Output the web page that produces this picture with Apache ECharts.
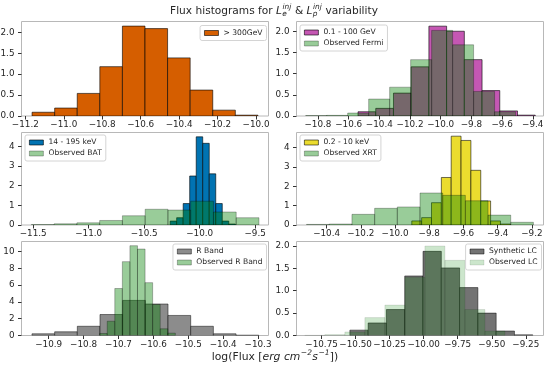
<!DOCTYPE html>
<html><head><meta charset="utf-8">
<script src="https://cdn.jsdelivr.net/npm/echarts@6/dist/echarts.min.js"></script>
<style>html,body{margin:0;padding:0;background:#fff}#c{width:550px;height:367px}</style>
</head><body><div id="c"></div>
<script>
// ---------- DATA ----------
// Panel 1: > 300GeV
const p1Edges = [-11.165, -11.0475, -10.93, -10.8125, -10.695, -10.5775, -10.46, -10.3425, -10.225, -10.1075, -9.99];
const p1Vals  = [0.09, 0.19, 0.54, 1.18, 2.15, 2.09, 1.39, 0.62, 0.14, 0.02];
// Panel 2: 0.1 - 100 GeV / Observed Fermi
const p2aEdges = [-10.539, -10.4235, -10.308, -10.1925, -10.077, -9.9615, -9.846, -9.7305, -9.615, -9.4995, -9.384];
const p2aVals  = [0.1, 0.18, 0.54, 1.16, 2.12, 2.0, 1.33, 0.6, 0.12, 0.02];
const p2bEdges = [-10.88, -10.7432, -10.6064, -10.4696, -10.3328, -10.196, -10.0592, -9.9224, -9.7856, -9.6488, -9.512];
const p2bVals  = [0.01, 0.015, 0.07, 0.4, 0.68, 1.33, 2.02, 1.68, 0.58, 0.1];
// Panel 3: 14 - 195 keV / Observed BAT
const p3aEdges = [-10.266, -10.2073, -10.1486, -10.0899, -10.0312, -9.9725, -9.9138, -9.8551, -9.7964, -9.7377, -9.679];
const p3aVals  = [0.2, 0.37, 1.09, 2.49, 4.48, 4.15, 2.6, 1.09, 0.2, 0.05];
const p3bEdges = [-11.516, -11.311, -11.106, -10.901, -10.696, -10.491, -10.286, -10.081, -9.876, -9.671, -9.466];
const p3bVals  = [0.02, 0.06, 0.11, 0.23, 0.47, 0.8, 0.76, 1.21, 0.66, 0.37];
// Panel 4: 0.2 - 10 keV / Observed XRT
const p4aEdges = [-9.902, -9.8444, -9.7868, -9.7292, -9.6716, -9.614, -9.5564, -9.4988, -9.4412, -9.3836, -9.326];
const p4aVals  = [0.21, 0.38, 1.15, 2.45, 4.58, 4.36, 2.82, 1.24, 0.21, 0.05];
const p4bEdges = [-10.517, -10.3844, -10.2518, -10.1192, -9.9866, -9.854, -9.7214, -9.5888, -9.4562, -9.3236, -9.191];
const p4bVals  = [0.03, 0.05, 0.55, 0.86, 0.93, 1.65, 1.53, 1.25, 0.51, 0.14];
// Panel 5: R Band / Observed R Band
const p5aEdges = [-10.948, -10.883, -10.818, -10.753, -10.688, -10.623, -10.558, -10.493, -10.428, -10.363, -10.298];
const p5aVals  = [0.2, 0.44, 1.1, 2.5, 4.18, 3.75, 2.39, 1.1, 0.2, 0.04];
const p5bEdges = [-10.754, -10.7323, -10.7106, -10.6889, -10.6672, -10.6455, -10.6238, -10.6021, -10.5804, -10.5587, -10.537];
const p5bVals  = [0.24, 1.7, 5.6, 8.8, 10.7, 10.3, 6.3, 3.7, 0.8, 0.28];
// Panel 6: Synthetic LC / Observed LC
const p6aEdges = [-10.542, -10.4077, -10.2734, -10.1391, -10.0048, -9.8705, -9.7362, -9.6019, -9.4676, -9.3333, -9.199];
const p6aVals  = [0.12, 0.28, 0.58, 1.33, 1.88, 1.51, 1.07, 0.5, 0.1, 0.015];
const p6bEdges = [-10.873, -10.726, -10.579, -10.432, -10.285, -10.138, -9.991, -9.844, -9.697, -9.55, -9.403];
const p6bVals  = [0.005, 0.02, 0.08, 0.4, 0.68, 1.3, 2.0, 1.68, 0.58, 0.1];

// tick labels
const p1XTicks = [-11.2, -11.0, -10.8, -10.6, -10.4, -10.2, -10.0];
const p2XTicks = [-10.8, -10.6, -10.4, -10.2, -10.0, -9.8, -9.6, -9.4];
const p3XTicks = [-11.5, -11.0, -10.5, -10.0, -9.5];
const p4XTicks = [-10.4, -10.2, -10.0, -9.8, -9.6, -9.4, -9.2];
const p5XTicks = [-10.9, -10.8, -10.7, -10.6, -10.5, -10.4, -10.3];
const p6XTicks = [-10.75, -10.50, -10.25, -10.00, -9.75, -9.50, -9.25];
const p1YTicks = [0, 0.5, 1.0, 1.5, 2.0];
const p2YTicks = [0, 0.5, 1.0, 1.5, 2.0];
const p3YTicks = [0, 1, 2, 3, 4];
const p4YTicks = [0, 1, 2, 3, 4];
const p5YTicks = [0, 2, 4, 6, 8, 10];
const p6YTicks = [0, 0.5, 1.0, 1.5, 2.0];

// ---------- LAYOUT / STYLE ----------
const FONT = 'DejaVu Sans';
const TXT = '#262626';
const grids = [
  {left: 21.5, top: 21.5, width: 247, height: 94.5},
  {left: 296.5, top: 21.5, width: 247, height: 94.5},
  {left: 21.5, top: 132.5, width: 247, height: 92.5},
  {left: 296.5, top: 132.5, width: 247, height: 92.5},
  {left: 21.5, top: 241.5, width: 247, height: 94},
  {left: 296.5, top: 241.5, width: 247, height: 94}
];
const xr = [[-11.22, -9.935], [-10.94, -9.33], [-11.605, -9.38], [-10.576, -9.132], [-10.978, -10.27], [-10.934, -9.12]];
const yr = [2.26, 2.23, 4.7, 4.77, 11.2, 2.1];
const xt = [p1XTicks, p2XTicks, p3XTicks, p4XTicks, p5XTicks, p6XTicks];
const yt = [p1YTicks, p2YTicks, p3YTicks, p4YTicks, p5YTicks, p6YTicks];
const xDec = [1, 1, 1, 1, 1, 2];
const yDec = [1, 1, 0, 0, 0, 1];
const fmt = (v, d) => v.toFixed(d).replace('-', '\u2212');

const G = 'rgba(0,128,0,0.4)';
const GE = 'rgba(0,0,0,0.35)';

function hist(name, gi, edges, vals, fill, stroke, lw) {
  const data = vals.map((v, i) => [edges[i], edges[i + 1], v]);
  return {
    type: 'custom', name, xAxisIndex: gi, yAxisIndex: gi, data,
    encode: {x: [0, 1], y: 2}, clip: true, silent: true, animation: false,
    itemStyle: {color: fill},
    renderItem: (params, api) => {
      const a = api.coord([api.value(0), 0]);
      const b = api.coord([api.value(1), api.value(2)]);
      return {type: 'rect', shape: {x: a[0], y: b[1], width: b[0] - a[0], height: a[1] - b[1]},
        style: {fill, stroke, lineWidth: lw}};
    }
  };
}

const S = {
  orange: ['#d55e00', 'rgba(0,0,0,0.75)'],
  mag: ['#c557b3', 'rgba(0,0,0,0.75)'],
  blue: ['#0173b2', 'rgba(0,0,0,0.75)'],
  yel: ['#ebdc2e', 'rgba(0,0,0,0.7)'],
  gray: ['#8c8c8c', 'rgba(0,0,0,0.6)'],
  dgray: ['#737373', 'rgba(0,0,0,0.6)'],
  green: [G, GE],
  lgreen: ['rgba(0,128,0,0.2)', 'rgba(0,0,0,0.12)']
};

const series = [
  hist('> 300GeV', 0, p1Edges, p1Vals, S.orange[0], S.orange[1], 0.8),
  hist('0.1 - 100 GeV', 1, p2aEdges, p2aVals, S.mag[0], S.mag[1], 0.8),
  hist('Observed Fermi', 1, p2bEdges, p2bVals, S.green[0], S.green[1], 0.8),
  hist('14 - 195 keV', 2, p3aEdges, p3aVals, S.blue[0], S.blue[1], 0.8),
  hist('Observed BAT', 2, p3bEdges, p3bVals, S.green[0], S.green[1], 0.8),
  hist('0.2 - 10 keV', 3, p4aEdges, p4aVals, S.yel[0], S.yel[1], 0.8),
  hist('Observed XRT', 3, p4bEdges, p4bVals, S.green[0], S.green[1], 0.8),
  hist('R Band', 4, p5aEdges, p5aVals, S.gray[0], S.gray[1], 0.8),
  hist('Observed R Band', 4, p5bEdges, p5bVals, S.green[0], S.green[1], 0.8),
  hist('Synthetic LC', 5, p6aEdges, p6aVals, S.dgray[0], S.dgray[1], 0.8),
  hist('Observed LC', 5, p6bEdges, p6bVals, S.lgreen[0], S.lgreen[1], 0.8)
];

function legend(items, pos) {
  return Object.assign({
    show: true, orient: 'vertical', selectedMode: false,
    data: items.map(([n, st]) => ({name: n, icon: 'rect', itemStyle: {color: st[0], borderColor: st[1], borderWidth: 0.8}})),
    itemWidth: 14, itemHeight: 5, itemGap: 2, padding: [3, 4, 3, 4],
    backgroundColor: 'rgba(255,255,255,0.8)', borderColor: '#d4d4d4', borderWidth: 1, borderRadius: 2,
    textStyle: {fontSize: 7.6, color: TXT, fontFamily: FONT, lineHeight: 9}
  }, pos);
}
const legends = [
  legend([['> 300GeV', S.orange]], {right: 283.5, top: 25.5}),
  legend([['0.1 - 100 GeV', S.mag], ['Observed Fermi', S.green]], {left: 300, top: 25}),
  legend([['14 - 195 keV', S.blue], ['Observed BAT', S.green]], {left: 25, top: 135}),
  legend([['0.2 - 10 keV', S.yel], ['Observed XRT', S.green]], {left: 300, top: 135}),
  legend([['R Band', S.gray], ['Observed R Band', S.green]], {right: 283.5, top: 244}),
  legend([['Synthetic LC', S.dgray], ['Observed LC', S.lgreen]], {right: 8.5, top: 244})
];

// rich one-line text with stacked sub/superscripts, laid out by measuring glyph widths
function mathLine(parts, cx, cy, base) {
  const ctx = document.createElement('canvas').getContext('2d');
  const f = (s, it) => (it ? 'italic ' : '') + s + 'px "' + FONT + '"';
  const items = []; let x = 0;
  for (const p of parts) {
    if (p.t !== undefined) {
      ctx.font = f(base, p.it);
      items.push({text: p.t, x, dy: 0, size: base, it: p.it});
      x += ctx.measureText(p.t).width;
    } else {
      const s = base * 0.7; ctx.font = f(s, p.it !== false);
      let w = 0;
      if (p.sup) { w = Math.max(w, ctx.measureText(p.sup).width); items.push({text: p.sup, x: x + 0.5, dy: -base * 0.36, size: s, it: p.it !== false}); }
      if (p.sub) { w = Math.max(w, ctx.measureText(p.sub).width); items.push({text: p.sub, x: x + 0.3, dy: base * 0.32, size: s, it: p.it !== false}); }
      x += w + 0.8;
    }
  }
  const x0 = cx - x / 2;
  return items.map(it => ({
    type: 'text', x: x0 + it.x, y: cy + it.dy, silent: true,
    style: {text: it.text, fontSize: it.size, fontFamily: FONT, fontStyle: it.it ? 'italic' : 'normal',
      fill: TXT, align: 'left', verticalAlign: 'middle'}
  }));
}

const titleEls = mathLine([
  {t: 'Flux histograms for '}, {t: 'L', it: true}, {sup: 'inj', sub: 'e'},
  {t: ' & '}, {t: 'L', it: true}, {sup: 'inj', sub: 'p'}, {t: ' variability'}
], 274, 11, 10.6);
const xlabEls = mathLine([
  {t: 'log(Flux ['}, {t: 'erg cm', it: true}, {sup: '\u22122'}, {t: 's', it: true}, {sup: '\u22121'}, {t: '])'}
], 275, 357, 10.8);

const option = {
  animation: false,
  backgroundColor: '#fff',
  grid: grids.map(g => Object.assign({show: true, borderColor: '#b8b8b8', borderWidth: 1, backgroundColor: 'transparent',
    containLabel: false, outerBoundsMode: 'none'}, g)),
  xAxis: grids.map((g, i) => ({
    type: 'value', gridIndex: i, min: xr[i][0], max: xr[i][1],
    axisLine: {show: false}, splitLine: {show: false},
    axisTick: {show: true, customValues: xt[i], length: 3.5, lineStyle: {color: '#333', width: 1}},
    axisLabel: {customValues: xt[i], formatter: v => fmt(v, xDec[i]), fontSize: 8.8, color: TXT, fontFamily: FONT, margin: 4.5}
  })),
  yAxis: grids.map((g, i) => ({
    type: 'value', gridIndex: i, min: 0, max: yr[i],
    axisLine: {show: false}, splitLine: {show: false},
    axisTick: {show: true, customValues: yt[i], length: 3.5, lineStyle: {color: '#333', width: 1}},
    axisLabel: {customValues: yt[i], formatter: v => fmt(v, yDec[i]), fontSize: 8.8, color: TXT, fontFamily: FONT, margin: 7}
  })),
  legend: legends,
  series,
  graphic: {elements: titleEls.concat(xlabEls)}
};

const chart = echarts.init(document.getElementById('c'), null, {renderer: 'canvas', width: 550, height: 367});
chart.setOption(option);
</script>
</body></html>
